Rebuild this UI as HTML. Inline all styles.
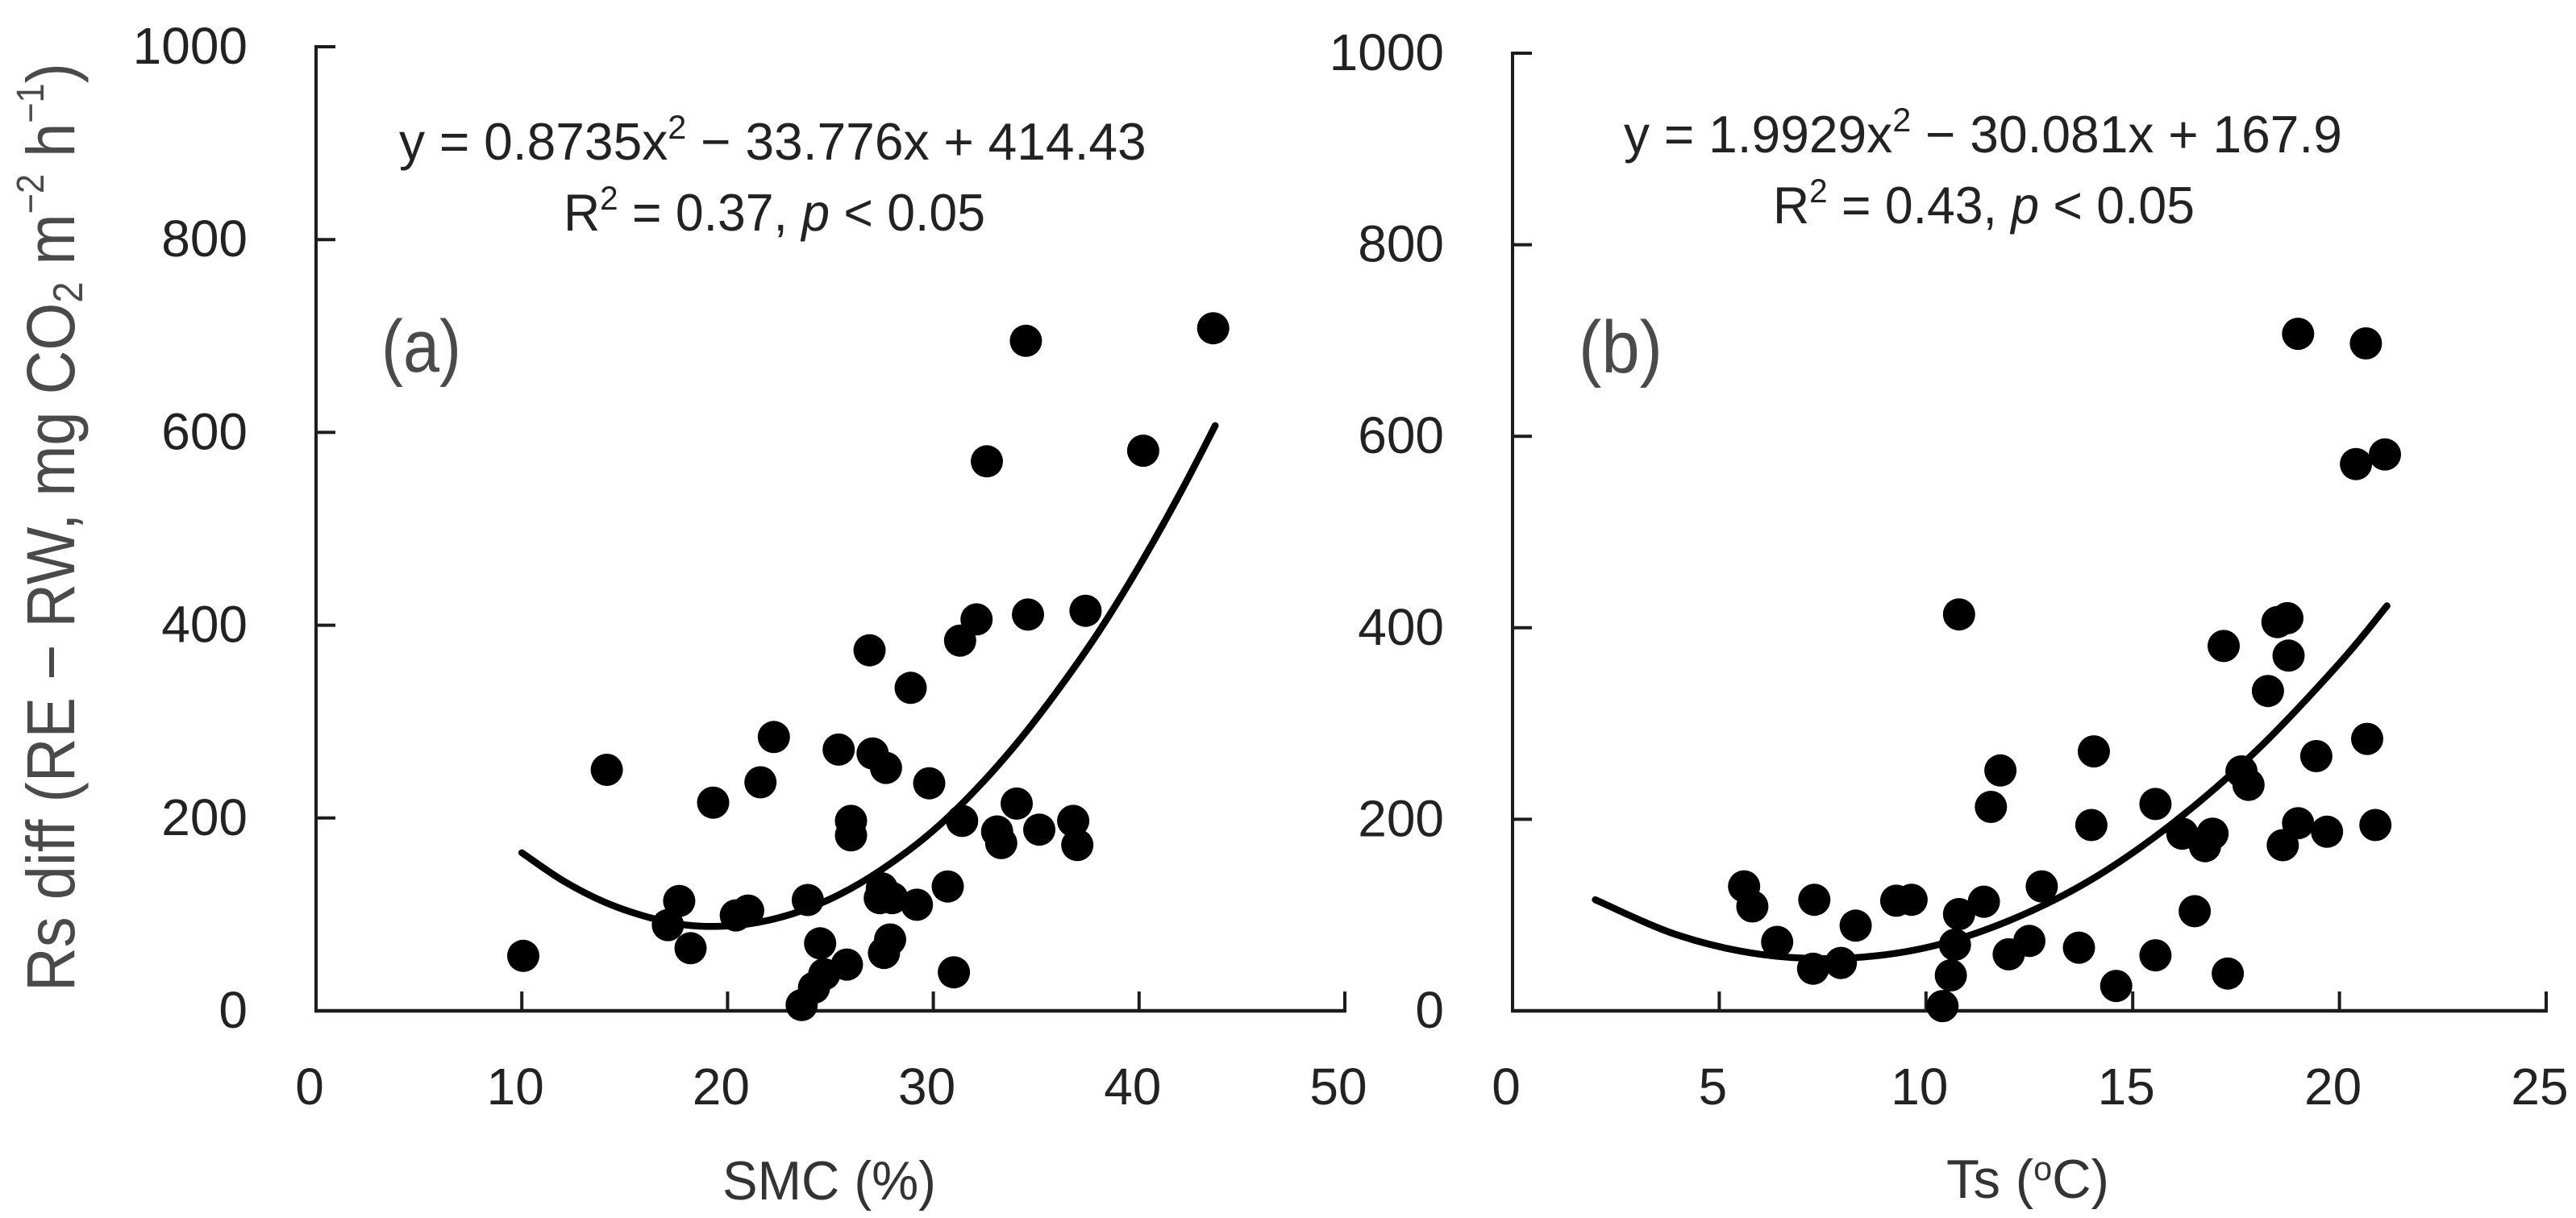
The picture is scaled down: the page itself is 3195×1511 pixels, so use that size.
<!DOCTYPE html>
<html lang="en">
<head>
<meta charset="utf-8">
<title>Rs diff versus SMC and Ts</title>
<style>
  html, body { margin: 0; padding: 0; background: #fff; }
  svg { display: block; font-family: "Liberation Sans", Arial, sans-serif; }
</style>
</head>
<body>
<svg id="figure" xmlns="http://www.w3.org/2000/svg" width="3195" height="1511" viewBox="0 0 3195 1511">
  <rect width="3195" height="1511" fill="#ffffff"/>
  <g id="panel-a"></g>
  <g id="panel-b"></g>

  <text class="fit" data-x="92" data-y="1230" data-w="1152" data-rot="-90" font-size="84" fill="#4a4a4a">Rs diff (RE − RW, mg CO<tspan dy="10" font-size="52">2</tspan><tspan dy="-10"> m</tspan><tspan dy="-38" font-size="48">−2</tspan><tspan dy="38"> h</tspan><tspan dy="-38" font-size="48">−1</tspan><tspan dy="38">)</tspan></text>

  <text class="fit" data-x="896" data-y="1488" data-w="265" font-size="68" fill="#333333">SMC (%)</text>
  <text class="fit" data-x="2414" data-y="1486" data-w="202" font-size="68" fill="#333333">Ts (<tspan dy="-22" font-size="42">o</tspan><tspan dy="22">C)</tspan></text>

  <text class="fit" data-x="495" data-y="198" data-w="927" font-size="65" fill="#222222">y = 0.8735x<tspan dy="-26" font-size="42">2</tspan><tspan dy="26"> − 33.776x + 414.43</tspan></text>
  <text class="fit" data-x="699" data-y="286" data-w="523" font-size="65" fill="#222222">R<tspan dy="-26" font-size="42">2</tspan><tspan dy="26"> = 0.37, </tspan><tspan font-style="italic">p</tspan> &lt; 0.05</text>
  <text class="fit" data-x="2014" data-y="189" data-w="891" font-size="65" fill="#222222">y = 1.9929x<tspan dy="-26" font-size="42">2</tspan><tspan dy="26"> − 30.081x + 167.9</tspan></text>
  <text class="fit" data-x="2199" data-y="277" data-w="523" font-size="65" fill="#222222">R<tspan dy="-26" font-size="42">2</tspan><tspan dy="26"> = 0.43, </tspan><tspan font-style="italic">p</tspan> &lt; 0.05</text>

  <text class="fit" data-x="473" data-y="461" data-w="99" font-size="92" fill="#4a4a4a">(a)</text>
  <text class="fit" data-x="1958" data-y="462" data-w="104" font-size="92" fill="#4a4a4a">(b)</text>
</svg>

<script>
// Shared value axis
const yTickLabels = [0, 200, 400, 600, 800, 1000];

// Panel (a): SMC (%)
const xTickLabelsA = [0, 10, 20, 30, 40, 50];
const smcValues = [10.07,14.13,22.25,21.6,19.3,17.65,17.1,18.2,20.4,21,23.9,23.6,32.1,31.3,34.6,37.4,26.9,28.9,25.4,27.05,27.7,29.8,26,26,31.4,34.05,35.15,36.8,37,33.1,33.3,30.7,27.5,27.4,28,29.2,27.9,27.6,24.5,25.8,24.7,24.2,31,34.5,32.6,40.2,43.6];
const rsDiffA = [57,250,284,237,216,114,89,65,99,104,115,6,406,384,411,415,374,335,271,267,252,236,197,182,197,215,188,197,172,186,174,129,127,117,117,110,74,60,70,48,38,24,40,695,570,581,708];
const trendSmc = [10,12,14,16,18,20,22,24,26,28,30,32,34,36,38,40,42,43.7];
const trendRsA = [164,135,113,98,89,88,94,107,127,154,187,228,276,331,392,461,537,607];

// Panel (b): Ts (degrees C)
const xTickLabelsB = [0, 5, 10, 15, 20, 25];
const tsValues = [5.6,5.8,6.4,7.3,7.27,7.94,8.3,9.28,9.65,11.4,10.8,10.7,10.6,10.4,10.8,11.8,11.57,14.06,14,15.55,16.2,16.75,16.93,17.63,17.8,12.8,12,12.5,13.7,14.6,15.55,16.5,17.3,19,20.64,20.4,21.1,17.2,18.5,18.74,18.77,18.27,20.67,19.44,19,18.63,19.7,20.87];
const rsDiffB = [130,109,72,116,44,50,89,115,116,114,101,69,37,5,414,251,213,271,194,216,185,172,185,250,236,130,59,73,66,26,58,104,39,707,697,571,581,381,406,410,371,334,284,266,196,173,187,194];
const trendTs = [2,4,6,8,10,12,14,16,18,20,21.15];
const trendRsB = [116,79,59,55,66,94,137,197,272,363,423];

const SVG_NS = 'http://www.w3.org/2000/svg';

function makeAxis(domainMax, pxStart, pxEnd) {
  return function (v) { return pxStart + (v / domainMax) * (pxEnd - pxStart); };
}

function smoothPath(xs, ys) {
  let d = 'M' + xs[0].toFixed(1) + ' ' + ys[0].toFixed(1);
  for (let i = 0; i < xs.length - 1; i++) {
    const a = Math.max(i - 1, 0), b = Math.min(i + 2, xs.length - 1);
    const c1x = xs[i] + (xs[i + 1] - xs[a]) / 6;
    const c1y = ys[i] + (ys[i + 1] - ys[a]) / 6;
    const c2x = xs[i + 1] - (xs[b] - xs[i]) / 6;
    const c2y = ys[i + 1] - (ys[b] - ys[i]) / 6;
    d += 'C' + c1x.toFixed(1) + ' ' + c1y.toFixed(1) + ' ' + c2x.toFixed(1) + ' ' + c2y.toFixed(1) + ' ' + xs[i + 1].toFixed(1) + ' ' + ys[i + 1].toFixed(1);
  }
  return d;
}

function addLine(parent, x1, y1, x2, y2, width, cap) {
  const el = document.createElementNS(SVG_NS, 'line');
  el.setAttribute('x1', x1);
  el.setAttribute('y1', y1);
  el.setAttribute('x2', x2);
  el.setAttribute('y2', y2);
  el.setAttribute('stroke', '#1c1c1c');
  el.setAttribute('stroke-width', width);
  el.setAttribute('stroke-linecap', cap || 'butt');
  parent.appendChild(el);
  return el;
}

function addLabel(parent, x, y, anchor, str) {
  const el = document.createElementNS(SVG_NS, 'text');
  el.setAttribute('x', x);
  el.setAttribute('y', y);
  el.setAttribute('text-anchor', anchor);
  el.setAttribute('font-size', '64');
  el.setAttribute('fill', '#222222');
  el.textContent = str;
  parent.appendChild(el);
  return el;
}

function drawPanel(group, xLabels, xValues, yValues, trendX, trendY, box) {
  const sx = makeAxis(xLabels[xLabels.length - 1], box.left, box.right);
  const sy = makeAxis(yTickLabels[yTickLabels.length - 1], box.bottom, box.top);

  const yAxis = addLine(group, box.left, sy(yTickLabels[yTickLabels.length - 1]) - 2, box.left, box.bottom + 2, 4);
  
  
  const xAxis = addLine(group, box.left - 2, box.bottom, box.right + 2, box.bottom, 4.5);
  
  

  yTickLabels.forEach(function (v) {
    if (v > 0) {
      const tick = addLine(group, box.left, sy(v), box.left + 24, sy(v), 4);
      
      
    }
    const label = addLabel(group, box.left - 85, sy(v) + 21, 'end', String(v));
    
    
  });

  xLabels.forEach(function (v) {
    if (v > 0) {
      const tick = addLine(group, sx(v), box.bottom, sx(v), box.bottom - 24, 4);
      
      
    }
    const label = addLabel(group, sx(v) - 8, 1370, 'middle', String(v));
    
    
  });

  const trend = document.createElementNS(SVG_NS, 'path');
  
  
  trend.setAttribute('d', smoothPath(trendX.map(sx), trendY.map(sy)));
  trend.setAttribute('fill', 'none');
  trend.setAttribute('stroke', '#000000');
  trend.setAttribute('stroke-width', '8.5');
  trend.setAttribute('stroke-linecap', 'round');
  group.appendChild(trend);

  xValues.forEach(function (v, i) {
    const dot = document.createElementNS(SVG_NS, 'circle');
    
    
    dot.setAttribute('cx', sx(v).toFixed(1));
    dot.setAttribute('cy', sy(yValues[i]).toFixed(1));
    dot.setAttribute('r', '20');
    dot.setAttribute('fill', '#000000');
    group.appendChild(dot);
  });
}

drawPanel(document.getElementById('panel-a'), xTickLabelsA, smcValues, rsDiffA, trendSmc, trendRsA,
  { left: 392, right: 1668, top: 58, bottom: 1254 });
drawPanel(document.getElementById('panel-b'), xTickLabelsB, tsValues, rsDiffB, trendTs, trendRsB,
  { left: 1876, right: 3158, top: 66, bottom: 1254 });

// Fit the free text to its measured width (the original typeface is narrower).
document.querySelectorAll('text.fit').forEach(function (el) {
  const natural = el.getComputedTextLength();
  const s = parseFloat(el.dataset.w) / natural;
  const rot = el.dataset.rot ? ' rotate(' + el.dataset.rot + ')' : '';
  el.setAttribute('transform', 'translate(' + el.dataset.x + ' ' + el.dataset.y + ')' + rot + ' scale(' + s.toFixed(4) + ' 1)');
});
</script>
</body>
</html>
